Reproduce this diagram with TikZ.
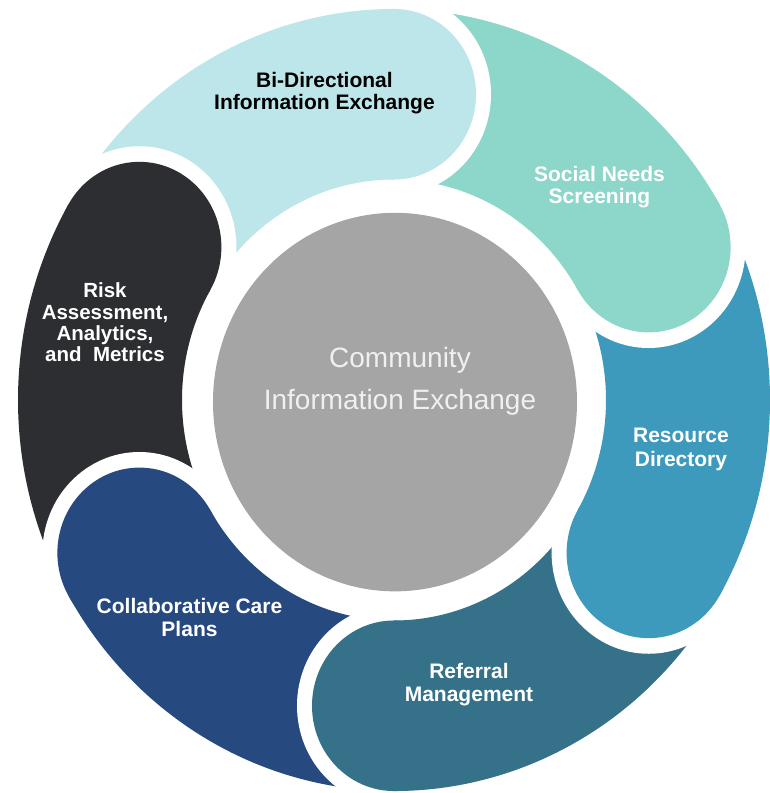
\documentclass[tikz,border=0pt]{standalone}
\usepackage{fontspec}
\setmainfont{Liberation Sans}
\usepackage{xcolor}
\definecolor{BiDir}{RGB}{189, 230, 234}
\definecolor{Social}{RGB}{141, 214, 202}
\definecolor{Resource}{RGB}{62, 154, 189}
\definecolor{Referral}{RGB}{53, 114, 137}
\definecolor{Collab}{RGB}{38, 73, 128}
\definecolor{Risk}{RGB}{45, 46, 50}
\definecolor{Hub}{RGB}{165, 165, 165}
\definecolor{HubText}{RGB}{240, 240, 240}

\begin{document}
\begin{tikzpicture}[x=1pt, y=1pt,
        seglabel/.style={font=\fontsize{21}{22.5}\selectfont\bfseries, text=white, align=center}]
    \useasboundingbox (-394,-393) rectangle (375,400);

    \begin{scope}[yscale=1.04]
        % Bi-Directional (head at 90)
        \fill[BiDir] (90:376) arc[start angle=90, end angle=150, radius=376] -- (150:212) arc[start angle=150, end angle=90, radius=212] -- cycle;
        \begin{scope}
            \clip (0,0) -- (90:500) arc[start angle=90, end angle=150, radius=500] -- cycle;
            \fill[white] (150:294) circle[radius=97];
        \end{scope}

        % Social Needs (head at 30)
        \fill[Social] (30:376) arc[start angle=30, end angle=90, radius=376] -- (90:212) arc[start angle=90, end angle=30, radius=212] -- cycle;
        \begin{scope}
            \clip (0,0) -- (30:500) arc[start angle=30, end angle=90, radius=500] -- cycle;
            \fill[white] (90:294) circle[radius=97];
        \end{scope}

        % Resource (head at -30)
        \fill[Resource] (-30:376) arc[start angle=-30, end angle=30, radius=376] -- (30:212) arc[start angle=30, end angle=-30, radius=212] -- cycle;
        \begin{scope}
            \clip (0,0) -- (-30:500) arc[start angle=-30, end angle=30, radius=500] -- cycle;
            \fill[white] (30:294) circle[radius=97];
        \end{scope}

        % Referral (head at -90)
        \fill[Referral] (-90:376) arc[start angle=-90, end angle=-30, radius=376] -- (-30:212) arc[start angle=-30, end angle=-90, radius=212] -- cycle;
        \begin{scope}
            \clip (0,0) -- (-90:500) arc[start angle=-90, end angle=-30, radius=500] -- cycle;
            \fill[white] (-30:294) circle[radius=97];
        \end{scope}

        % Collaborative (head at -150)
        \fill[Collab] (-150:376) arc[start angle=-150, end angle=-90, radius=376] -- (-90:212) arc[start angle=-90, end angle=-150, radius=212] -- cycle;
        \begin{scope}
            \clip (0,0) -- (-150:500) arc[start angle=-150, end angle=-90, radius=500] -- cycle;
            \fill[white] (-90:294) circle[radius=97];
        \end{scope}

        % Risk (head at 150)
        \fill[Risk] (150:376) arc[start angle=150, end angle=210, radius=376] -- (210:212) arc[start angle=210, end angle=150, radius=212] -- cycle;
        \begin{scope}
            \clip (0,0) -- (150:500) arc[start angle=150, end angle=210, radius=500] -- cycle;
            \fill[white] (210:294) circle[radius=97];
        \end{scope}

        % rounded heads
        \fill[BiDir] (90:294) circle[radius=82];
        \fill[Social] (30:294) circle[radius=82];
        \fill[Resource] (-30:294) circle[radius=82];
        \fill[Referral] (-90:294) circle[radius=82];
        \fill[Collab] (-150:294) circle[radius=82];
        \fill[Risk] (150:294) circle[radius=82];

        % Hub
        \fill[Hub] (1,-2) circle[radius=182];
    \end{scope}

    % Labels
    \node[seglabel, text=black] (bidir) at (-69.5, 307) {Bi-Directional\\Information Exchange};
    \node[seglabel] (social) at (205.5, 213) {Social Needs\\Screening};
    \node[seglabel, font=\fontsize{21}{23.5}\selectfont\bfseries] (resource) at (287, -49.5) {Resource\\Directory};
    \node[seglabel] (referral) at (75, -284.5) {Referral\\Management};
    \node[seglabel] (collab) at (-204.5, -217.6) {Collaborative Care\\Plans};
    \node[seglabel, font=\fontsize{20.5}{21.3}\selectfont\bfseries] (risk) at (-289, 77.6) {Risk\\Assessment,\\Analytics,\\and~ Metrics};
    \node[font=\fontsize{28}{42}\selectfont, text=HubText, align=center] (hub) at (6, 19) {Community\\Information Exchange};
\end{tikzpicture}
\end{document}
